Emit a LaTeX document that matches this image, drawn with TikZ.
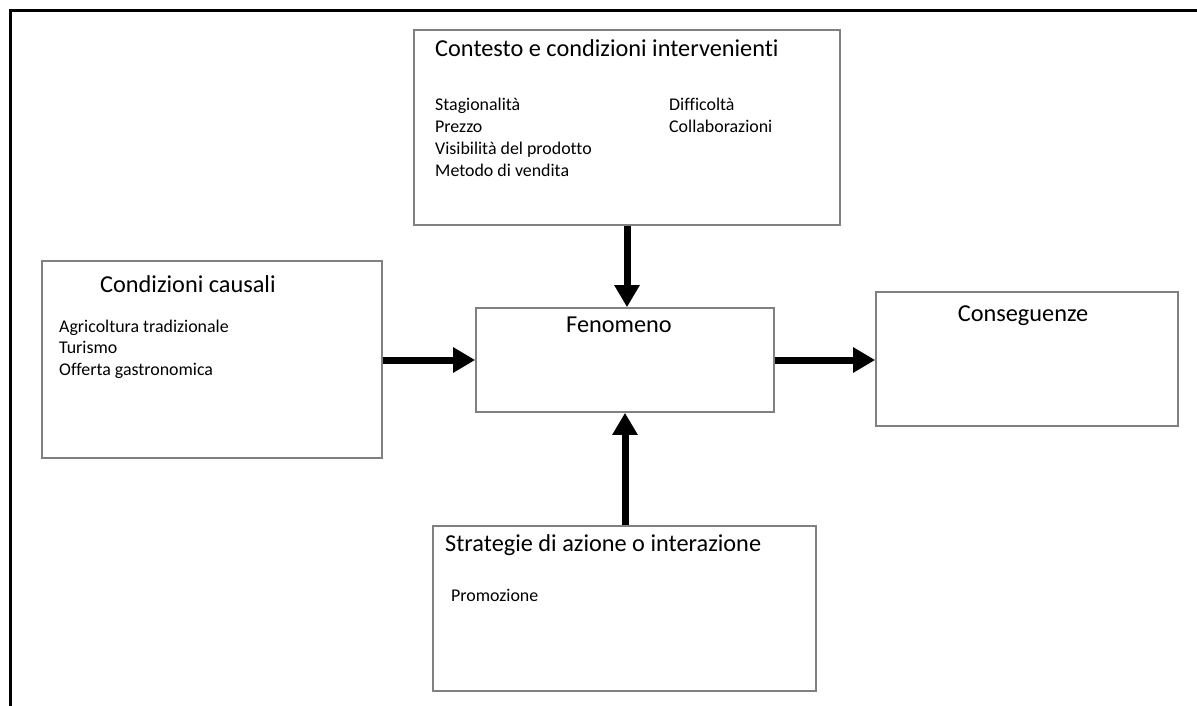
\documentclass[tikz,border=0pt]{standalone}
\usepackage{fontspec}
\setmainfont{Carlito}[Ligatures={NoCommon}]
\usetikzlibrary{arrows.meta,positioning}

\begin{document}
\begin{tikzpicture}[
  x=1pt, y=-1pt,
  box/.style={draw=black!50, line width=1.6pt, inner sep=0pt},
  title/.style={anchor=base west, inner sep=0pt, font=\fontsize{24.3}{28}\selectfont},
  item/.style={anchor=base west, inner sep=0pt, font=\fontsize{17.9}{22}\selectfont},
  arrow/.style={-{Triangle[length=22pt,width=24pt]}, line width=7pt}
]
\useasboundingbox (0,0) rectangle (1197,706);

% outer frame (top and left only)
\draw[line width=3pt] (10,706) -- (10,11) -- (1197,11);

% boxes
\node[box, minimum width=426pt, minimum height=195pt] (contesto) at (627,127.5) {};
\node[box, minimum width=340pt, minimum height=197pt] (causali) at (212,359.5) {};
\node[box, minimum width=298pt, minimum height=104pt] (fenomeno) at (625,360) {};
\node[box, minimum width=302pt, minimum height=134pt] (conseguenze) at (1027,359) {};
\node[box, minimum width=383pt, minimum height=165pt] (strategie) at (624.5,608.5) {};

% titles
\node[title] (contestoT) at (435,57) {Contesto e condizioni intervenienti};
\node[title] (causaliT) at (100,292) {Condizioni causali};
\node[title, anchor=base] (fenomenoT) at (619,332) {Fenomeno};
\node[title, anchor=base] (conseguenzeT) at (1023,321) {Conseguenze};
\node[title] (strategieT) at (445,551) {Strategie di azione o interazione};

% items
\foreach \txt [count=\i from 0] in {Stagionalità, Prezzo, Visibilità del prodotto, Metodo di vendita}
  \node[item] (ctxA\i) at (435,111+22*\i) {\txt};
\foreach \txt [count=\i from 0] in {Difficoltà, Collaborazioni}
  \node[item] (ctxB\i) at (669,111+22*\i) {\txt};
\foreach \txt [count=\i from 0] in {Agricoltura tradizionale, Turismo, Offerta gastronomica}
  \node[item] (cau\i) at (59,332+21.5*\i) {\txt};
\node[item] (promo) at (451,601) {Promozione};

% arrows
\draw[arrow] (contesto.south) -- (contesto.south |- fenomeno.north);
\draw[arrow] (strategie.north -| fenomeno) -- (fenomeno.south);
\draw[arrow] (causali.east |- fenomeno) -- (fenomeno.west);
\draw[arrow] (fenomeno.east) -- (conseguenze.west |- fenomeno);

\end{tikzpicture}
\end{document}
